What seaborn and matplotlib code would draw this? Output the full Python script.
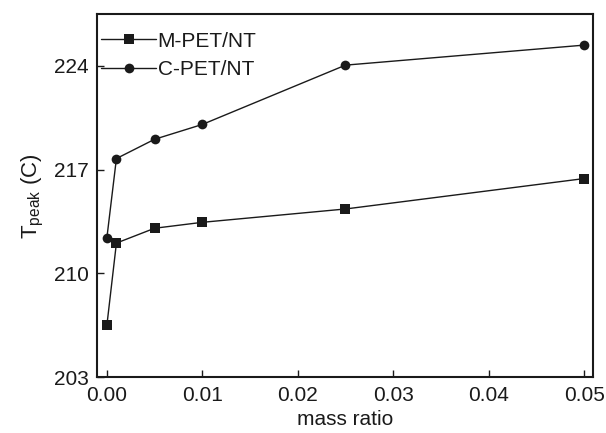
import matplotlib
matplotlib.use("Agg")
import matplotlib.pyplot as plt
import seaborn as sns
import pandas as pd

mass_ratio = [0.0, 0.001, 0.005, 0.01, 0.025, 0.05]
m_pet_nt = [206.5, 212.05, 213.05, 213.45, 214.35, 216.4]
c_pet_nt = [212.4, 217.75, 219.05, 220.05, 224.05, 225.4]
series_names = ["M-PET/NT", "C-PET/NT"]
x_ticks = [0.00, 0.01, 0.02, 0.03, 0.04, 0.05]
y_ticks = [203, 210, 217, 224]

sns.set_style("ticks")
plt.rcParams["font.family"] = ["Liberation Sans", "DejaVu Sans"]
plt.rcParams["mathtext.fontset"] = "custom"
plt.rcParams["mathtext.rm"] = "Liberation Sans"
plt.rcParams["mathtext.it"] = "Liberation Sans"

df = pd.DataFrame({
    "mass ratio": mass_ratio * 2,
    "T": m_pet_nt + c_pet_nt,
    "series": [series_names[0]] * len(mass_ratio) + [series_names[1]] * len(mass_ratio),
})

fig = plt.figure(figsize=(6.06, 4.33), dpi=100)
ax = fig.add_axes([0.1606, 0.1287, 0.978 - 0.1606, 0.9677 - 0.1287])

sns.lineplot(data=df, x="mass ratio", y="T", hue="series", style="series",
             hue_order=series_names, style_order=series_names,
             palette=["#1a1a1a", "#1a1a1a"], markers={"M-PET/NT": "s", "C-PET/NT": "o"},
             dashes=False, linewidth=1.0, markersize=7, markeredgewidth=0,
             ax=ax)

ax.set_xlim(-0.001, 0.0509)
ax.set_ylim(203, 227.5)
ax.set_xticks(x_ticks)
ax.set_xticklabels([f"{v:.2f}" for v in x_ticks])
ax.set_yticks(y_ticks)
ax.tick_params(direction="in", length=5, width=1, labelsize=15, colors="#1a1a1a", pad=6)
for s in ax.spines.values():
    s.set_visible(True)
    s.set_linewidth(1.5)
    s.set_color("#1a1a1a")

ax.set_xlabel("mass ratio", fontsize=15, color="#1a1a1a", labelpad=4)
ax.set_ylabel(r"T$_{\mathrm{peak}}$ (C)", fontsize=16, color="#1a1a1a", labelpad=6)

leg = ax.legend(loc="upper left", bbox_to_anchor=(0.0, 0.963), frameon=False,
                fontsize=15, handlelength=2.6, handletextpad=0.1,
                borderaxespad=0.0, borderpad=0.2, labelspacing=0.45)
for t in leg.get_texts():
    t.set_color("#1a1a1a")

fig.savefig("out.png", dpi=100)
